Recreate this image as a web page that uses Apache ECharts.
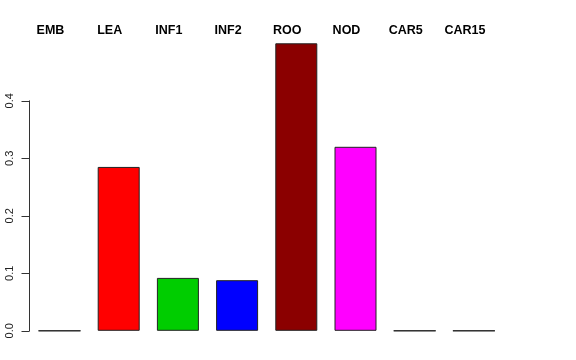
<!DOCTYPE html>
<html>
<head>
<meta charset="utf-8">
<script src="https://cdn.jsdelivr.net/npm/echarts@6/dist/echarts.min.js"></script>
<style>html,body{margin:0;padding:0;background:#fff}#c{width:576px;height:360px}</style>
</head>
<body>
<div id="c"></div>
<script>
const categories = ['EMB', 'LEA', 'INF1', 'INF2', 'ROO', 'NOD', 'CAR5', 'CAR15'];
const values = [0, 0.285, 0.092, 0.088, 0.5, 0.32, 0, 0];
const barColors = ['#000000', '#FF0000', '#00CD00', '#0000FF', '#8B0000', '#FF00FF', '#00FFFF', '#FFFF00'];
const yTicks = [0, 0.1, 0.2, 0.3, 0.4];

const chart = echarts.init(document.getElementById('c'), null, {renderer: 'canvas'});
const font = 'Liberation Sans, Arial, Helvetica, sans-serif';
chart.setOption({
  animation: false,
  backgroundColor: '#ffffff',
  grid: [
    {left: 29.5, top: 100.8, width: 474, height: 230, containLabel: false},
    {left: 29.9, top: 31.8, width: 473.6, height: 299, containLabel: false},
    {left: 20.9, top: 45, width: 473.6, height: 100, containLabel: false}
  ],
  xAxis: [
    {gridIndex: 0, type: 'category', data: categories, show: false},
    {gridIndex: 1, type: 'category', data: categories, show: false},
    {gridIndex: 2, type: 'category', data: categories, position: 'top',
     axisLine: {show: false}, axisTick: {show: false}, splitLine: {show: false},
     axisLabel: {show: true, interval: 0, margin: 8, fontFamily: font, fontSize: 12.5, fontWeight: 'bold', color: '#000'}}
  ],
  yAxis: [
    {gridIndex: 0, type: 'value', min: yTicks[0], max: yTicks[yTicks.length - 1], interval: 0.1,
     axisLine: {show: true, lineStyle: {color: '#333', width: 1}},
     axisTick: {show: true, length: 8, lineStyle: {color: '#333', width: 1}},
     splitLine: {show: false},
     axisLabel: {show: true, rotate: 90, margin: 14, fontFamily: font, fontSize: 11, color: '#222',
                 formatter: v => v.toFixed(1)}},
    {gridIndex: 1, type: 'value', min: 0, max: 0.52, show: false, splitLine: {show: false}},
    {gridIndex: 2, type: 'value', show: false, splitLine: {show: false}}
  ],
  series: [{
    type: 'bar',
    xAxisIndex: 1,
    yAxisIndex: 1,
    barWidth: 42,
    clip: false,
    data: values.map((v, i) => ({value: v, itemStyle: {color: barColors[i]}})),
    itemStyle: {borderColor: '#222', borderWidth: 1}
  }]
});
</script>
</body>
</html>
